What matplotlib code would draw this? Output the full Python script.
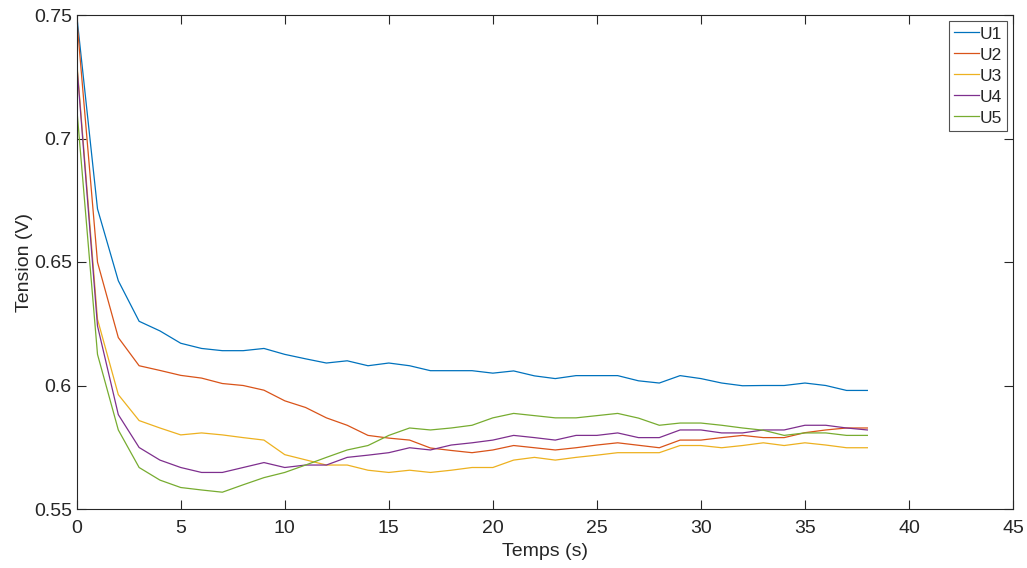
import matplotlib
matplotlib.use("Agg")
import matplotlib.pyplot as plt
import numpy as np

plt.rcParams['font.family'] = ['Liberation Sans', 'DejaVu Sans']

t = list(range(0, 39))
U1 = [0.750, 0.6715, 0.6424, 0.6260, 0.6221, 0.6171, 0.6150, 0.6141, 0.6141, 0.6150,
      0.6126, 0.6108, 0.6091, 0.6100, 0.6080, 0.6091, 0.6080, 0.6060, 0.6060, 0.6060,
      0.6050, 0.6059, 0.6039, 0.6028, 0.6040, 0.6040, 0.6040, 0.6019, 0.6010, 0.6040,
      0.6028, 0.6010, 0.5999, 0.6000, 0.6000, 0.6010, 0.6000, 0.5980, 0.5980]
U2 = [0.7488, 0.6499, 0.6194, 0.6080, 0.6061, 0.6041, 0.6030, 0.6008, 0.6000, 0.5981,
      0.5938, 0.5911, 0.5869, 0.5839, 0.5798, 0.5787, 0.5779, 0.5747, 0.5737, 0.5728,
      0.5739, 0.5757, 0.5748, 0.5739, 0.5748, 0.5759, 0.5768, 0.5758, 0.5748, 0.5779,
      0.5779, 0.5789, 0.5798, 0.5789, 0.5789, 0.5809, 0.5820, 0.5828, 0.5828]
U3 = [0.7314, 0.6268, 0.5963, 0.5858, 0.5828, 0.5800, 0.5808, 0.5800, 0.5789, 0.5779,
      0.5720, 0.5699, 0.5678, 0.5678, 0.5657, 0.5648, 0.5657, 0.5648, 0.5657, 0.5668,
      0.5668, 0.5698, 0.5709, 0.5698, 0.5709, 0.5718, 0.5728, 0.5728, 0.5728, 0.5757,
      0.5757, 0.5748, 0.5757, 0.5768, 0.5757, 0.5768, 0.5759, 0.5748, 0.5748]
U4 = [0.7305, 0.6241, 0.5882, 0.5749, 0.5698, 0.5668, 0.5648, 0.5648, 0.5668, 0.5688,
      0.5668, 0.5678, 0.5678, 0.5709, 0.5718, 0.5728, 0.5748, 0.5739, 0.5759, 0.5768,
      0.5779, 0.5798, 0.5789, 0.5779, 0.5798, 0.5798, 0.5808, 0.5789, 0.5789, 0.5820,
      0.5820, 0.5808, 0.5808, 0.5820, 0.5820, 0.5839, 0.5839, 0.5828, 0.5820]
U5 = [0.7126, 0.6126, 0.5820, 0.5668, 0.5617, 0.5587, 0.5577, 0.5568, 0.5598, 0.5627,
      0.5648, 0.5678, 0.5709, 0.5739, 0.5757, 0.5798, 0.5828, 0.5820, 0.5828, 0.5839,
      0.5869, 0.5887, 0.5878, 0.5869, 0.5869, 0.5878, 0.5887, 0.5868, 0.5839, 0.5848,
      0.5848, 0.5839, 0.5828, 0.5819, 0.5798, 0.5808, 0.5808, 0.5798, 0.5798]

series = [("U1", U1), ("U2", U2), ("U3", U3), ("U4", U4), ("U5", U5)]
colors = ["#0072BD", "#D95319", "#EDB120", "#7E2F8E", "#77AC30"]

xticks = [0, 5, 10, 15, 20, 25, 30, 35, 40, 45]
yticks = [0.55, 0.6, 0.65, 0.7, 0.75]
ytick_labels = ["0.55", "0.6", "0.65", "0.7", "0.75"]

W, H = 1027, 568
fig = plt.figure(figsize=(W / 100, H / 100), dpi=100)
left, right, top, bottom = 76.7, 1013, 15, 509
ax = fig.add_axes([left / W, 1 - bottom / H, (right - left) / W, (bottom - top) / H])

for (name, vals), c in zip(series, colors):
    ax.plot(t, vals, color=c, lw=0.9, label=name)

axc = "#262626"
ax.set_xlim(0, 45)
ax.set_ylim(0.55, 0.75)
ax.set_xticks(xticks)
ax.set_yticks(yticks)
ax.set_yticklabels(ytick_labels)
for s in ax.spines.values():
    s.set_color(axc)
    s.set_linewidth(0.8)
ax.tick_params(direction='in', length=6.8, width=0.8, colors=axc,
               labelsize=14, top=True, right=True)
ax.tick_params(axis='x', pad=7.9)
ax.tick_params(axis='y', pad=3.5)
ax.set_xlabel("Temps (s)", fontsize=14, color=axc)
ax.set_ylabel("Tension (V)", fontsize=14, color=axc)
ax.xaxis.set_label_coords(0.5, -0.0684)
ax.yaxis.set_label_coords(-0.0464, 0.5)

leg = ax.legend(loc='upper right', fontsize=12.5, frameon=True, fancybox=False,
                edgecolor=axc, handlelength=1.45, handletextpad=0.06,
                handleheight=1.0, borderpad=0.28, labelspacing=0.24,
                borderaxespad=0.33)
leg.get_frame().set_linewidth(0.8)
for txt in leg.get_texts():
    txt.set_color(axc)

fig.savefig("out.png", dpi=100)
